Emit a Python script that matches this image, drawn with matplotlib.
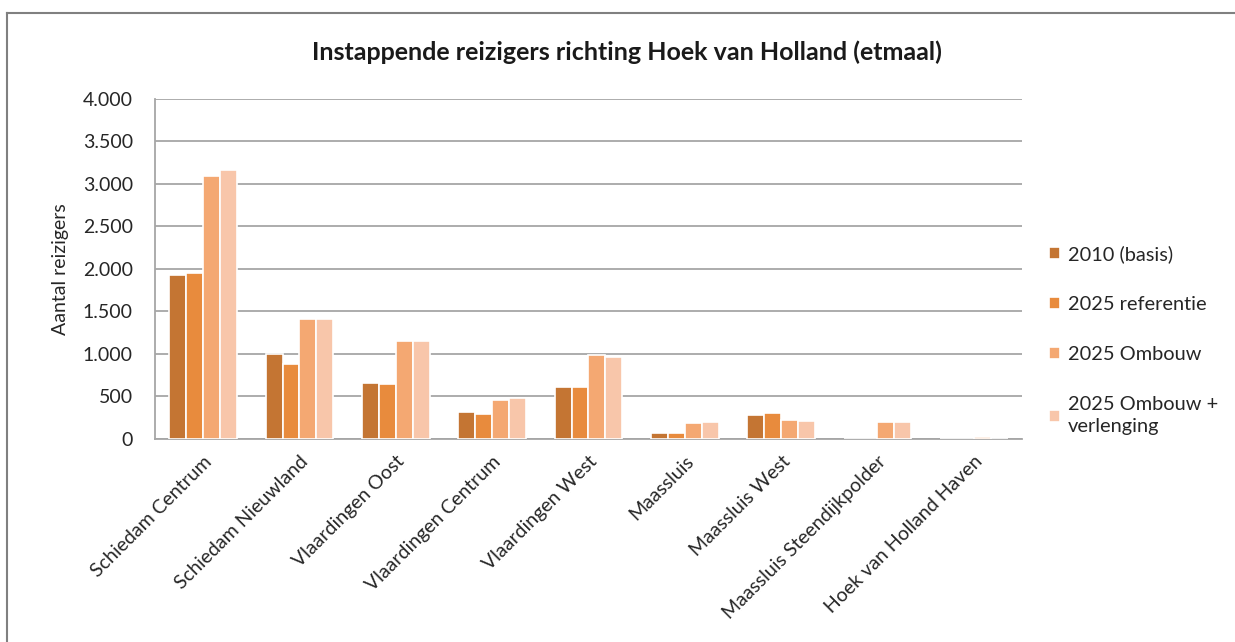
import matplotlib.pyplot as plt
import numpy as np
from matplotlib.lines import Line2D
from matplotlib.ticker import FuncFormatter

# Data
stations = ["Schiedam Centrum", "Schiedam Nieuwland", "Vlaardingen Oost",
            "Vlaardingen Centrum", "Vlaardingen West", "Maassluis",
            "Maassluis West", "Maassluis Steendijkpolder", "Hoek van Holland Haven"]
basis_2010 = [1925, 1000, 659, 318, 612, 67, 286, 0, 0]
referentie_2025 = [1957, 878, 643, 290, 612, 67, 302, 0, 0]
ombouw_2025 = [3090, 1412, 1157, 455, 984, 188, 227, 204, 20]
verlenging_2025 = [3169, 1412, 1157, 486, 969, 204, 216, 204, 0]
series_labels = ["2010 (basis)", "2025 referentie", "2025 Ombouw",
                 "2025 Ombouw +\nverlenging"]

kleuren = ["#C47533", "#E88B3D", "#F4A872", "#F8C6AA"]
plt.rcParams['font.family'] = ['Lato', 'DejaVu Sans']

fig = plt.figure(figsize=(12.35, 6.42), dpi=100)
ax = fig.add_axes([0.1255, 0.3162, 0.702, 0.5296])

x = np.arange(len(stations))
breedte = 0.176
reeksen = [basis_2010, referentie_2025, ombouw_2025, verlenging_2025]
for i, (waarden, kleur, label) in enumerate(zip(reeksen, kleuren, series_labels)):
    ax.bar(x + (i - 1.5) * breedte, waarden, breedte, color=kleur,
           edgecolor="white", linewidth=1.2, label=label, zorder=3)

ax.set_xlim(-0.5, len(stations) - 0.5)
ax.set_ylim(0, 4000)
ax.set_yticks(np.arange(0, 4001, 500))
ax.yaxis.set_major_formatter(FuncFormatter(lambda v, p: f"{int(v):,}".replace(",", ".")))
ax.grid(axis="y", color="#A6A6A6", linewidth=1.3, zorder=0)
ax.set_xticks(x)
ax.set_xticklabels(stations, rotation=45, ha="right", rotation_mode="anchor", fontsize=14)
ax.tick_params(axis="both", length=0, labelsize=14, colors="#262626")
ax.tick_params(axis="x", pad=10)
ax.tick_params(axis="y", pad=16)

for kant in ["top", "right"]:
    ax.spines[kant].set_visible(False)
for kant in ["left", "bottom"]:
    ax.spines[kant].set_color("#A6A6A6")
    ax.spines[kant].set_linewidth(1.3)

ax.set_ylabel("Aantal reizigers", fontsize=14, color="#262626", labelpad=10)
fig.text(0.508, 0.919, "Instappende reizigers richting Hoek van Holland (etmaal)",
         ha="center", va="center", fontsize=18, fontweight="bold", color="#1a1a1a")

leg = ax.legend(loc="center left", bbox_to_anchor=(1.010, 0.29), frameon=False,
                fontsize=14.4, labelspacing=1.65, handlelength=0.55, handleheight=0.55,
                handletextpad=0.4)
for t in leg.get_texts():
    t.set_color("#262626")
    t.set_linespacing(1.35)

# grijze rand van de grafiek
fig.add_artist(Line2D([0.0057, 1.0], [0.98, 0.98], color="#808080", linewidth=1.5,
                      transform=fig.transFigure))
fig.add_artist(Line2D([0.0057, 0.0057], [0.0, 0.98], color="#808080", linewidth=1.5,
                      transform=fig.transFigure))

fig.savefig("out.png", dpi=100)
